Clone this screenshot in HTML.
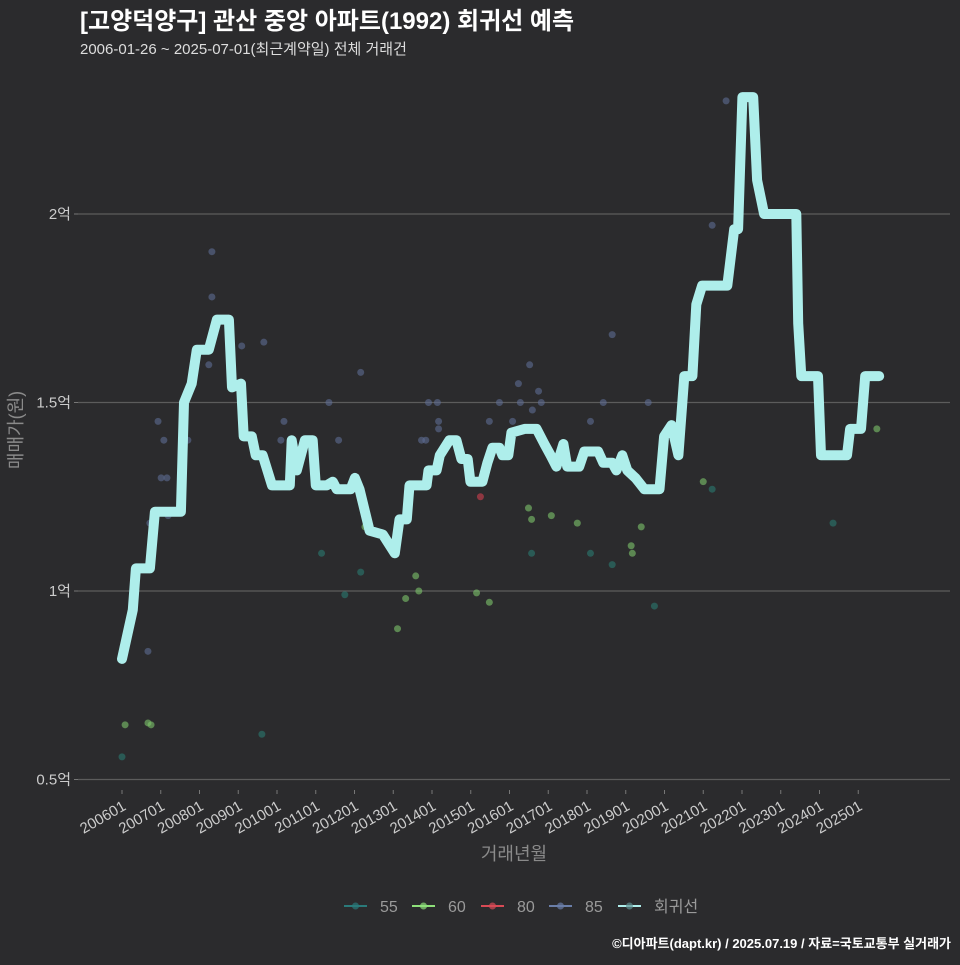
<!DOCTYPE html>
<html><head><meta charset="utf-8">
<style>
html,body{margin:0;padding:0;background:#2b2b2d;}
body{width:960px;height:960px;overflow:hidden;font-family:"Liberation Sans","Noto Sans CJK KR",sans-serif;}
svg text{font-family:"Liberation Sans","Noto Sans CJK KR",sans-serif;}
</style></head><body>
<svg id="chart" width="960" height="960" xmlns="http://www.w3.org/2000/svg">
<rect width="960" height="960" fill="#2b2b2d"/>
<text x="80" y="29" fill="#ffffff" font-size="24" font-weight="bold">[고양덕양구] 관산 중앙 아파트(1992) 회귀선 예측</text>
<text x="80" y="54" fill="#dddddd" font-size="15">2006-01-26 ~ 2025-07-01(최근계약일) 전체 거래건</text>
<g id="grid"></g>
<g id="yaxis"></g>
<g id="xaxis"></g>
<g id="points"></g>
<g id="line"></g>
<text transform="translate(22,430) rotate(-90)" text-anchor="middle" fill="#8a8a8a" font-size="18">매매가(원)</text>
<text x="514" y="860" text-anchor="middle" fill="#8a8a8a" font-size="18">거래년월</text>
<g id="legend"></g>
<text x="951" y="948" text-anchor="end" fill="#ffffff" font-size="13" font-weight="bold">©디아파트(dapt.kr) / 2025.07.19 / 자료=국토교통부 실거래가</text>
</svg>
<script>
const yTicks=[0.5,1,1.5,2];
const yTickLabels=["0.5억","1억","1.5억","2억"];
const xTickYears=[2006,2007,2008,2009,2010,2011,2012,2013,2014,2015,2016,2017,2018,2019,2020,2021,2022,2023,2024,2025];
const xTickLabels=["200601","200701","200801","200901","201001","201101","201201","201301","201401","201501","201601","201701","201801","201901","202001","202101","202201","202301","202401","202501"];
const lineDates=[2006.00,2006.28,2006.36,2006.72,2006.85,2007.52,2007.60,2007.80,2007.93,2008.24,2008.45,2008.76,2008.84,2009.07,2009.14,2009.35,2009.45,2009.63,2009.87,2010.33,2010.38,2010.51,2010.72,2010.92,2011.00,2011.28,2011.44,2011.54,2011.90,2012.01,2012.13,2012.39,2012.73,2013.04,2013.16,2013.35,2013.42,2013.86,2013.91,2014.12,2014.20,2014.45,2014.63,2014.76,2014.92,2014.99,2015.30,2015.43,2015.56,2015.74,2015.82,2015.97,2016.05,2016.39,2016.70,2016.90,2017.06,2017.21,2017.39,2017.49,2017.80,2017.93,2018.29,2018.42,2018.65,2018.76,2018.91,2019.04,2019.25,2019.48,2019.87,2019.99,2020.18,2020.36,2020.51,2020.72,2020.82,2020.97,2021.62,2021.80,2021.90,2022.01,2022.29,2022.39,2022.57,2023.40,2023.45,2023.53,2023.96,2024.04,2024.71,2024.79,2025.07,2025.18,2025.54];
const lineValues=[0.82,0.95,1.06,1.06,1.21,1.21,1.50,1.55,1.64,1.64,1.72,1.72,1.54,1.55,1.41,1.41,1.36,1.36,1.28,1.28,1.40,1.32,1.40,1.40,1.28,1.28,1.29,1.27,1.27,1.30,1.27,1.16,1.15,1.10,1.19,1.19,1.28,1.28,1.32,1.32,1.36,1.40,1.40,1.35,1.35,1.29,1.29,1.34,1.38,1.38,1.36,1.36,1.42,1.43,1.43,1.39,1.36,1.33,1.39,1.33,1.33,1.37,1.37,1.34,1.34,1.32,1.36,1.32,1.30,1.27,1.27,1.41,1.44,1.36,1.57,1.57,1.76,1.81,1.81,1.96,1.96,2.31,2.31,2.09,2.00,2.00,1.71,1.57,1.57,1.36,1.36,1.43,1.43,1.57,1.57];
const s55Dates=[2006.0,2009.61,2011.15,2012.16,2011.75,2016.57,2018.09,2018.65,2019.74,2021.23,2024.35];
const s55Values=[0.56,0.62,1.10,1.05,0.99,1.10,1.10,1.07,0.96,1.27,1.18];
const s60Dates=[2006.08,2006.67,2006.75,2012.27,2013.11,2013.32,2013.58,2013.66,2015.15,2015.48,2016.49,2016.57,2017.08,2017.75,2019.14,2019.17,2019.40,2021.0,2025.48];
const s60Values=[0.645,0.65,0.645,1.17,0.90,0.98,1.04,1.00,0.995,0.97,1.22,1.19,1.20,1.18,1.12,1.10,1.17,1.29,1.43];
const s80Dates=[2015.25];
const s80Values=[1.25];
const s85Dates=[2006.67,2006.72,2006.93,2007.01,2007.08,2007.16,2007.19,2007.70,2008.24,2008.32,2008.32,2009.09,2009.66,2010.10,2010.18,2011.34,2011.59,2012.16,2013.73,2013.84,2013.91,2014.14,2014.17,2014.17,2015.48,2015.74,2016.08,2016.23,2016.28,2016.52,2016.59,2016.75,2016.82,2018.09,2018.42,2018.65,2019.58,2021.23,2021.59];
const s85Values=[0.84,1.18,1.45,1.30,1.40,1.30,1.20,1.40,1.60,1.78,1.90,1.65,1.66,1.40,1.45,1.50,1.40,1.58,1.40,1.40,1.50,1.50,1.45,1.43,1.45,1.50,1.45,1.55,1.50,1.60,1.48,1.53,1.50,1.45,1.50,1.68,1.50,1.97,2.30];
const legendLabels=["55","60","80","85","회귀선"];

const NS="http://www.w3.org/2000/svg";
function xs(t){return 122+(t-2006)*38.75;}
function ys(v){return 591-(v-1)*377;}
function mk(tag,attrs,parent){const e=document.createElementNS(NS,tag);for(const k in attrs)e.setAttribute(k,attrs[k]);parent.appendChild(e);return e;}

const grid=document.getElementById('grid'),yaxis=document.getElementById('yaxis'),xaxis=document.getElementById('xaxis');
yTicks.forEach((v,i)=>{
  const g=mk('line',{x1:78,x2:950,y1:ys(v),y2:ys(v),stroke:'#5c5c5c','stroke-width':1.2},grid);
  
  
  const tk=mk('line',{x1:74,x2:78,y1:ys(v),y2:ys(v),stroke:'#777','stroke-width':1},yaxis);
  
  
  const t=mk('text',{x:71,y:ys(v)+5,'text-anchor':'end',fill:'#cccccc','font-size':15},yaxis);
  t.textContent=yTickLabels[i];
  
  
});
xTickYears.forEach((yr,i)=>{
  const x=xs(yr);
  const tk=mk('line',{x1:x,x2:x,y1:790,y2:794,stroke:'#777','stroke-width':1},xaxis);
  
  
  const t=mk('text',{transform:`translate(${x+5},${809}) rotate(-30)`,'text-anchor':'end',fill:'#cccccc','font-size':15},xaxis);
  t.textContent=xTickLabels[i];
  
  
});
const pts=document.getElementById('points');
function drawSeries(d,v,color,name){
  d.forEach((t,i)=>{
    const c=mk('circle',{cx:xs(t),cy:ys(v[i]),r:3.5,fill:color,'fill-opacity':0.6},pts);
    
    
  });
}
drawSeries(s55Dates,s55Values,'#2a7a70','point-55');
drawSeries(s60Dates,s60Values,'#7dc46a','point-60');
drawSeries(s80Dates,s80Values,'#d0404f','point-80');
drawSeries(s85Dates,s85Values,'#5e6d92','point-85');
const lp=lineDates.map((t,i)=>xs(t).toFixed(1)+','+ys(lineValues[i]).toFixed(1)).join(' ');
const pl=mk('polyline',{points:lp,fill:'none',stroke:'#aeeeeb','stroke-width':10,'stroke-linejoin':'round','stroke-linecap':'round'},document.getElementById('line'));



const legend=document.getElementById('legend');
const lcol=['#2a7a7a','#8ee07a','#d84a55','#6a7ea8','#aeeeeb'];
const lx=[344,412,481,549,618];
legendLabels.forEach((lab,i)=>{
  const g=mk('g',{},legend);
  
  
  mk('line',{x1:lx[i],x2:lx[i]+23,y1:906,y2:906,stroke:lcol[i],'stroke-width':2},g);
  mk('circle',{cx:lx[i]+11.5,cy:906,r:3.5,fill:i==4?'#5e8f90':lcol[i],'fill-opacity':0.7},g);
  const t=mk('text',{x:lx[i]+36,y:912,fill:'#9a9a9a','font-size':16},g);
  t.textContent=lab;
});
</script>
</body></html>
